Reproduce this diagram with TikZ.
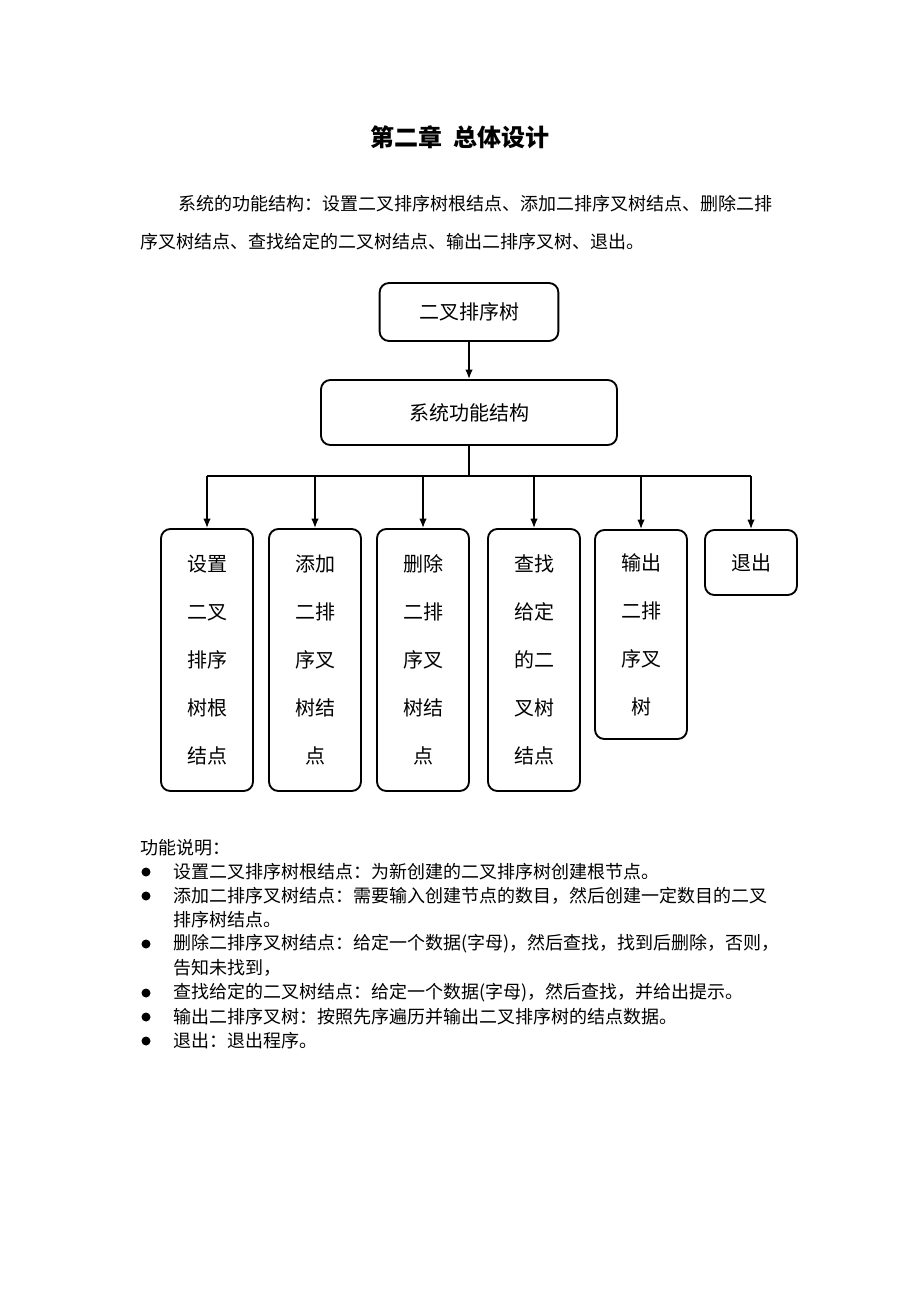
\documentclass[tikz,border=0pt]{standalone}
\usepackage{fontspec}
\setmainfont{Noto Sans CJK SC}
\usepackage{tikz}
\usetikzlibrary{positioning,arrows.meta}

\begin{document}
\begin{tikzpicture}[x=0.75pt,y=-0.75pt]

% Seite
\fill[white] (0,0) rectangle (920,1302);
\useasboundingbox (0,0) rectangle (920,1302);

\tikzset{>={Latex[length=7pt,width=5.5pt]}}
\tikzstyle{kasten}=[draw,line width=1.4pt,rounded corners=7pt,inner sep=0pt,align=center,font=\fontsize{15}{36}\selectfont]
\tikzstyle{zeile}=[anchor=west,inner sep=0pt,font=\fontsize{13.5}{16}\selectfont]
\tikzstyle{linie}=[line width=1.1pt]
\tikzstyle{pfeil}=[->,linie]

% Ueberschrift
\node[font=\fontsize{18}{20}\selectfont\bfseries] (titel) at (460,137) {第二章\ \ 总体设计};

% Absatz
\node[zeile] (a1) at (178,204) {系统的功能结构：设置二叉排序树根结点、添加二排序叉树结点、删除二排};
\node[zeile] (a2) at (140,242) {序叉树结点、查找给定的二叉树结点、输出二排序叉树、退出。};

% Kaesten oben
\node[kasten,minimum width=134pt,minimum height=43.5pt] (b0) at (469,312) {二叉排序树};
\node[kasten,minimum width=222pt,minimum height=48.75pt] (b1) at (469,412.5) {系统功能结构};

% Kaesten unten
\node[kasten,minimum width=69pt,minimum height=196.5pt] (c1) at (207,660) {设置\\二叉\\排序\\树根\\结点};
\node[kasten,minimum width=69pt,minimum height=196.5pt] (c2) at (315,660) {添加\\二排\\序叉\\树结\\点};
\node[kasten,minimum width=69pt,minimum height=196.5pt] (c3) at (423,660) {删除\\二排\\序叉\\树结\\点};
\node[kasten,minimum width=69pt,minimum height=196.5pt] (c4) at (534,660) {查找\\给定\\的二\\叉树\\结点};
\node[kasten,minimum width=69pt,minimum height=156.75pt] (c5) at (641,634.5) {输出\\二排\\序叉\\树};
\node[kasten,minimum width=69pt,minimum height=48.75pt] (c6) at (751,562.5) {退出};

% Verbindungen
\coordinate (bus) at (469,476);
\draw[pfeil] (b0) -- (b1);
\draw[linie] (b1.south) -- (bus);
\draw[linie] (c1.north |- bus) -- (c6.north |- bus);
\foreach \i in {1,...,6}
	\draw[pfeil] (c\i.north |- bus) -- (c\i.north);

% Funktionsbeschreibung
\node[zeile] (f0) at (140,848) {功能说明：};
\foreach \y/\txt in {872/设置二叉排序树根结点：为新创建的二叉排序树创建根节点。,
	896/添加二排序叉树结点：需要输入创建节点的数目，然后创建一定数目的二叉,
	944/删除二排序叉树结点：给定一个数据(字母)，然后查找，找到后删除，否则，,
	993/查找给定的二叉树结点：给定一个数据(字母)，然后查找，并给出提示。,
	1017/输出二排序叉树：按照先序遍历并输出二叉排序树的结点数据。,
	1041/退出：退出程序。}{
	\fill (146,\y) circle (4.5);
	\node[zeile] at (173,\y) {\txt};
}
\node[zeile] (f2b) at (173,920) {排序树结点。};
\node[zeile] (f3b) at (173,968) {告知未找到，};

\end{tikzpicture}
\end{document}
